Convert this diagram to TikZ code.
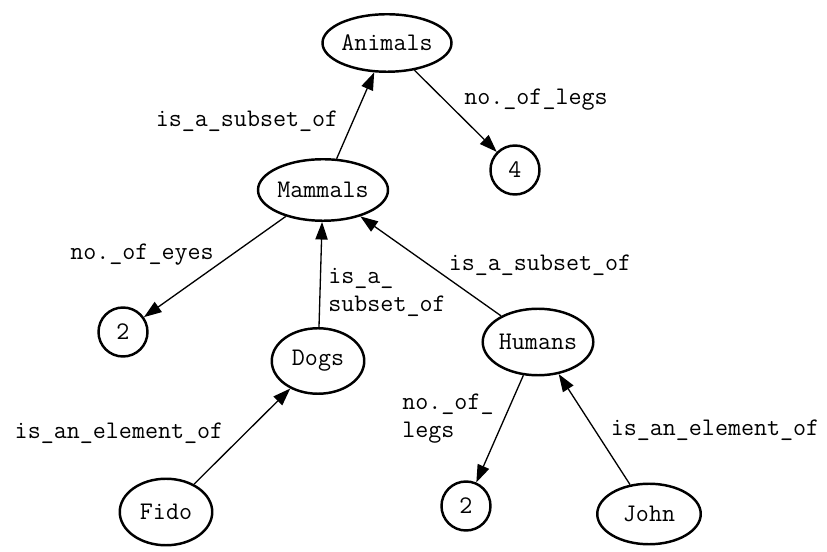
\documentclass[tikz,border=0pt]{standalone}
\usepackage{fontspec}
\usetikzlibrary{shapes.geometric,arrows.meta}
\tikzset{
	concept/.style={ellipse,draw,line width=1.4pt,inner sep=0pt},
	value/.style={circle,draw,line width=1.4pt,inner sep=0pt,minimum size=0.98cm},
	rel/.style={line width=0.75pt,-{Triangle[length=10pt,width=7pt]}},
	lbl/.style={inner sep=0pt,align=left}
}
\begin{document}
\ttfamily\fontsize{14.4}{15.9}\selectfont
\begin{tikzpicture}
		\useasboundingbox(0,0)rectangle(16.54,-11.04);
		\node[concept,minimum width=2.57cm,minimum height=1.15cm](Animals)at(7.74,-0.86){Animals};
		\node[value](Four)at(10.30,-3.40){4};
		\node[concept,minimum width=2.6cm,minimum height=1.23cm](Mammals)at(6.46,-3.80){Mammals};
		\node[value](TwoEyes)at(2.46,-6.64){2};
		\node[concept,minimum width=1.85cm,minimum height=1.31cm](Dogs)at(6.36,-7.22){Dogs};
		\node[concept,minimum width=2.09cm,minimum height=1.33cm](Humans)at(10.76,-6.84){Humans};
		\node[concept,minimum width=1.85cm,minimum height=1.33cm](Fido)at(3.32,-10.24){Fido};
		\node[value](TwoLegs)at(9.32,-10.12){2};
		\node[concept,minimum width=2.07cm,minimum height=1.21cm](John)at(12.98,-10.28){John};
		\node[lbl](L1)at(4.94,-2.42){is\_a\_subset\_of};
		\node[lbl](L2)at(10.72,-2.00){no.\_of\_legs};
		\node[lbl](L3)at(2.84,-5.10){no.\_of\_eyes};
		\node[lbl,anchor=west](L4)at(6.56,-5.84){is\_a\_\\subset\_of};
		\node[lbl](L5)at(10.80,-5.30){is\_a\_subset\_of};
		\node[lbl,anchor=west](L6)at(8.04,-8.38){no.\_of\_\\legs};
		\node[lbl](L7)at(14.30,-8.60){is\_an\_element\_of};
		\node[lbl](L8)at(2.38,-8.66){is\_an\_element\_of};
		\draw[rel](Mammals)--(Animals);
		\draw[rel](Animals)--(Four);
		\draw[rel](Mammals)--(TwoEyes);
		\draw[rel](Dogs)--(Mammals);
		\draw[rel](Humans)--(Mammals);
		\draw[rel](Fido)--(Dogs);
		\draw[rel](Humans)--(TwoLegs);
		\draw[rel](John)--(Humans);
	\end{tikzpicture}
\end{document}
